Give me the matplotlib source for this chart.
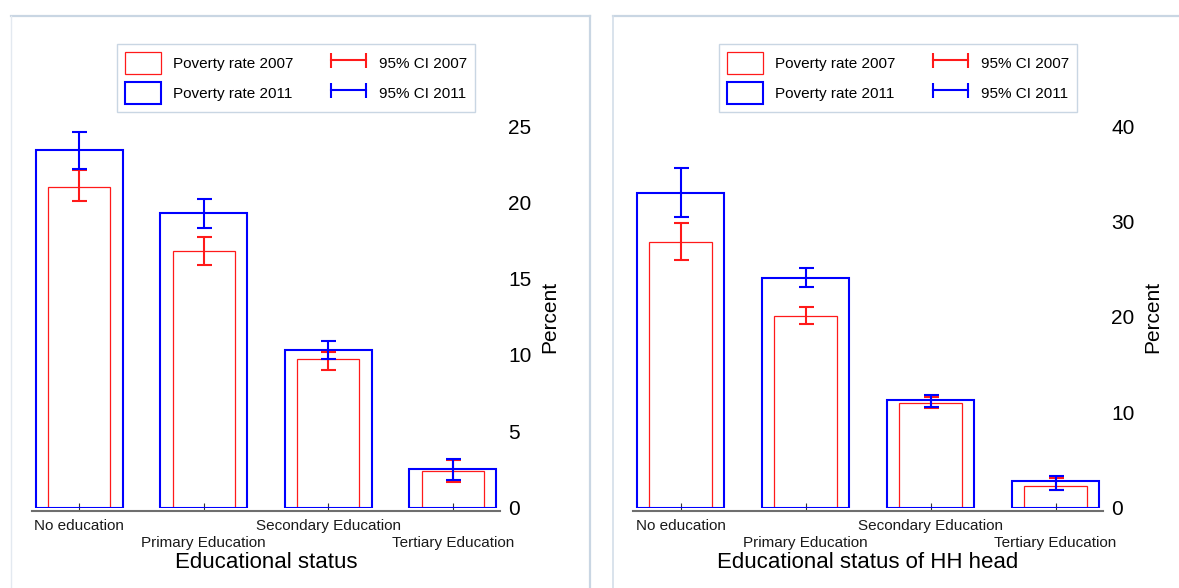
import numpy as np
import matplotlib
matplotlib.use("Agg")
import matplotlib.pyplot as plt
from matplotlib.lines import Line2D
from matplotlib.patches import Patch
from matplotlib.legend_handler import HandlerLine2D

plt.rcParams['font.family'] = ['Liberation Sans', 'DejaVu Sans']

# Education categories along the x axis
categories = ["No education", "Primary Education", "Secondary Education", "Tertiary Education"]

# Poverty rates (percent) by own educational status
rate07_ind = [21.0, 16.8, 9.7, 2.4]
ci07_ind_lo = [20.1, 15.9, 9.0, 1.7]
ci07_ind_hi = [22.1, 17.7, 10.2, 3.1]
rate11_ind = [23.4, 19.3, 10.3, 2.5]
ci11_ind_lo = [22.2, 18.3, 9.7, 1.8]
ci11_ind_hi = [24.6, 20.2, 10.9, 3.2]

# Poverty rates (percent) by educational status of household head
rate07_hh = [27.8, 20.1, 11.0, 2.3]
ci07_hh_lo = [25.9, 19.2, 10.4, 1.8]
ci07_hh_hi = [29.8, 21.0, 11.6, 3.1]
rate11_hh = [33.0, 24.1, 11.3, 2.8]
ci11_hh_lo = [30.5, 23.1, 10.5, 1.8]
ci11_hh_hi = [35.6, 25.1, 11.8, 3.3]

yticks_ind = [0, 5, 10, 15, 20, 25]
yticks_hh = [0, 10, 20, 30, 40]

W, H = 1179, 588
RED = '#ff1a1a'
BLUE = '#0000ff'
FRAME = '#c9d6e3'

fig = plt.figure(figsize=(W / 100, H / 100), dpi=100)


def px_rect(x0, x1, ytop, ybot):
    return [x0 / W, 1 - ybot / H, (x1 - x0) / W, (ybot - ytop) / H]


def frame_line(xs, ys, color=FRAME, lw=1.6):
    fig.add_artist(Line2D([x / W for x in xs], [1 - y / H for y in ys],
                          transform=fig.transFigure, color=color, lw=lw))


# panel frames
frame_line([11, 590], [16, 16])
frame_line([590, 590], [16, 600])
frame_line([11, 11], [16, 600], color='#e3e9f0', lw=1.0)
frame_line([613, 1190], [16, 16])
frame_line([613, 613], [16, 600], color='#d3dee9', lw=1.2)


def draw_panel(ax, r07, lo07, hi07, r11, lo11, hi11, ymax, yticks, xlabel):
    x = np.arange(len(categories))
    r07 = np.array(r07)
    r11 = np.array(r11)
    ax.bar(x, r07, width=0.5, facecolor='none', edgecolor=RED, lw=0.9, zorder=2)
    ax.bar(x, r11, width=0.7, facecolor='none', edgecolor=BLUE, lw=1.5, zorder=3)
    ax.errorbar(x, r07, yerr=[r07 - np.array(lo07), np.array(hi07) - r07],
                fmt='none', ecolor=RED, elinewidth=1.5, capsize=5.4, capthick=1.5, zorder=4)
    ax.errorbar(x, r11, yerr=[r11 - np.array(lo11), np.array(hi11) - r11],
                fmt='none', ecolor=BLUE, elinewidth=1.5, capsize=5.4, capthick=1.5, zorder=5)

    ax.set_xlim(-0.38, len(categories) - 1 + 0.38)
    ax.set_ylim(0, ymax)

    for s in ['left', 'top', 'right']:
        ax.spines[s].set_visible(False)
    ax.spines['bottom'].set_position(('outward', 2.2))
    ax.spines['bottom'].set_color('#6e6e6e')
    ax.spines['bottom'].set_linewidth(1.5)

    # staggered category labels
    ax.set_xticks(x[0::2], [categories[i] for i in x[0::2]])
    ax.set_xticks(x[1::2], [categories[i] for i in x[1::2]], minor=True)
    ax.tick_params(axis='x', which='both', direction='in', length=5.8, width=0.8,
                   color='#333333', labelsize=11, labelcolor='#1a1a1a')
    ax.tick_params(axis='x', which='major', pad=6.3)
    ax.tick_params(axis='x', which='minor', pad=18.0)

    ax.yaxis.tick_right()
    ax.yaxis.set_label_position('right')
    ax.set_yticks(yticks)
    ax.tick_params(axis='y', length=0, pad=5.8, labelsize=15)
    ax.set_ylabel('Percent', fontsize=15, labelpad=6.5)
    ax.set_xlabel(xlabel, fontsize=16, labelpad=1.5)

    handles = [
        Patch(facecolor='none', edgecolor=RED, lw=0.9),
        Patch(facecolor='none', edgecolor=BLUE, lw=1.5),
        Line2D([], [], color=RED, lw=1.5, marker='|', markersize=10.8, markeredgewidth=1.5),
        Line2D([], [], color=BLUE, lw=1.5, marker='|', markersize=10.8, markeredgewidth=1.5),
    ]
    labels = ['Poverty rate 2007', 'Poverty rate 2011', '95% CI 2007', '95% CI 2011']
    hmap = {h: HandlerLine2D(numpoints=2, marker_pad=0) for h in handles[2:]}
    return handles, labels, hmap


ax1 = fig.add_axes(px_rect(32, 500, 126, 507.5))
h1, l1, m1 = draw_panel(ax1, rate07_ind, ci07_ind_lo, ci07_ind_hi,
                        rate11_ind, ci11_ind_lo, ci11_ind_hi, 25, yticks_ind, 'Educational status')
ax2 = fig.add_axes(px_rect(633, 1103, 126, 507.5))
h2, l2, m2 = draw_panel(ax2, rate07_hh, ci07_hh_lo, ci07_hh_hi,
                        rate11_hh, ci11_hh_lo, ci11_hh_hi, 40, yticks_hh, 'Educational status of HH head')

for ax, lx, hh, ll, mm in [(ax1, 117, h1, l1, m1), (ax2, 719, h2, l2, m2)]:
    leg = ax.legend(hh, ll, handler_map=mm, ncol=2, loc='upper left',
                    bbox_to_anchor=(lx / W, 1 - 44 / H), bbox_transform=fig.transFigure,
                    borderaxespad=0, fontsize=11, handlelength=2.3, handleheight=1.835,
                    handletextpad=0.8, columnspacing=2.5, labelspacing=0.48,
                    borderpad=0.55, fancybox=False, framealpha=1, edgecolor=FRAME)
    leg.get_frame().set_linewidth(1.0)

fig.savefig('out.png', dpi=100)
